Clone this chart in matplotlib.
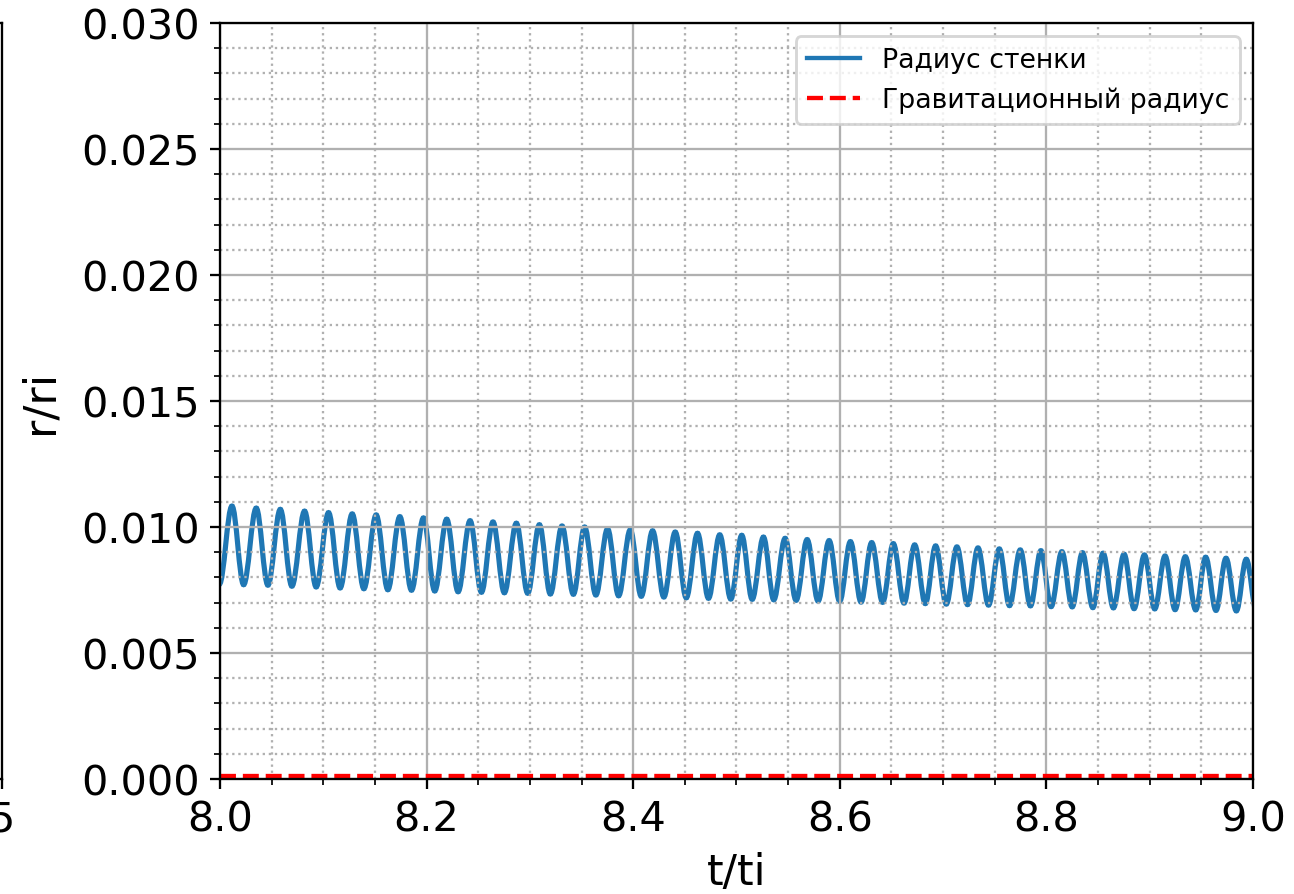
import numpy as np
import matplotlib
matplotlib.use('Agg')
import matplotlib.pyplot as plt
from matplotlib.path import Path
from matplotlib.patches import PathPatch
from matplotlib.lines import Line2D

peak_t = [8.0116, 8.0351, 8.0584, 8.0819, 8.1051, 8.1280, 8.1512, 8.1741, 8.1970, 8.2195,
          8.2421, 8.2643, 8.2869, 8.3092, 8.3311, 8.3530, 8.3752, 8.3972, 8.4188, 8.4407,
          8.4623, 8.4838, 8.5051, 8.5261, 8.5471, 8.5684, 8.5897, 8.6103, 8.6309, 8.6518,
          8.6725, 8.6928, 8.7134, 8.7338, 8.7544, 8.7747, 8.7947, 8.8150, 8.8349, 8.8549,
          8.8752, 8.8949, 8.9149, 8.9345, 8.9542, 8.9739, 8.9935]
peak_r = [0.01083, 0.01075, 0.01070, 0.01063, 0.01057, 0.01052, 0.01048, 0.01041, 0.01036, 0.01031,
          0.01025, 0.01020, 0.01015, 0.01009, 0.01004, 0.01000, 0.00993, 0.00989, 0.00985, 0.00980,
          0.00975, 0.00969, 0.00967, 0.00960, 0.00955, 0.00950, 0.00946, 0.00942, 0.00938, 0.00934,
          0.00929, 0.00925, 0.00921, 0.00917, 0.00913, 0.00909, 0.00906, 0.00902, 0.00898, 0.00896,
          0.00892, 0.00889, 0.00885, 0.00882, 0.00880, 0.00876, 0.00872]
trough_t = [7.9994, 8.0229, 8.0464, 8.0696, 8.0931, 8.1163, 8.1393, 8.1625, 8.1854, 8.2079,
            8.2305, 8.2531, 8.2753, 8.2979, 8.3198, 8.3421, 8.3639, 8.3859, 8.4078, 8.4297,
            8.4514, 8.4729, 8.4945, 8.5152, 8.5361, 8.5577, 8.5790, 8.5999, 8.6206, 8.6415,
            8.6622, 8.6828, 8.7031, 8.7237, 8.7440, 8.7643, 8.7846, 8.8046, 8.8250, 8.8450,
            8.8649, 8.8849, 8.9049, 8.9246, 8.9446, 8.9642, 8.9839, 9.0035]
trough_r = [0.00773, 0.00771, 0.00769, 0.00765, 0.00762, 0.00758, 0.00755, 0.00751, 0.00749, 0.00746,
            0.00743, 0.00741, 0.00739, 0.00737, 0.00734, 0.00733, 0.00730, 0.00727, 0.00725, 0.00722,
            0.00719, 0.00717, 0.00714, 0.00713, 0.00711, 0.00709, 0.00706, 0.00705, 0.00702, 0.00701,
            0.00698, 0.00696, 0.00694, 0.00692, 0.00690, 0.00688, 0.00687, 0.00684, 0.00683, 0.00680,
            0.00679, 0.00676, 0.00675, 0.00672, 0.00671, 0.00669, 0.00667, 0.00665]

# gravitational radius (constant)
r_grav = 0.0001

t_min, t_max = 8.0, 9.0
r_min, r_max = 0.0, 0.030

# merge extrema in time order
ext = sorted(zip(peak_t + trough_t, peak_r + trough_r))

# smooth wave through the extrema: bezier segments with flat tangents
h = 0.3634
verts = [ext[0]]
codes = [Path.MOVETO]
for (t0, r0), (t1, r1) in zip(ext[:-1], ext[1:]):
    d = t1 - t0
    verts += [(t0 + h * d, r0), (t1 - h * d, r1), (t1, r1)]
    codes += [Path.CURVE4] * 3

fig = plt.figure(figsize=(1294 / 207, 895 / 207), dpi=207)

# neighbour subplot, only its right edge is in the picture
ax0 = fig.add_axes([-0.5, 0.1285, 0.5012, 0.8447])
ax0.set_xlim(0, 5)
ax0.set_ylim(r_min, r_max)
ax0.set_xticks([5])
ax0.set_yticks([])
ax0.tick_params(labelsize=14.4)

ax = fig.add_axes([0.1700, 0.1285, 0.7983, 0.8447])
wall = PathPatch(Path(verts, codes), facecolor='none', edgecolor='#1f77b4', lw=1.8)
ax.add_patch(wall)
ax.axhline(r_grav, color='red', linestyle='--', lw=1.5)

ax.set_xlim(t_min, t_max)
ax.set_ylim(r_min, r_max)
ax.minorticks_on()
ax.grid(which='major', linestyle='-', color='#b0b0b0', lw=0.8)
ax.grid(which='minor', linestyle=':', color='#b0b0b0', lw=0.8)
ax.tick_params(labelsize=14.4)

ax.set_xlabel('t/ti', fontsize=14.8)
ax.set_ylabel('r/ri', fontsize=15.5, labelpad=7)

handles = [Line2D([], [], color='#1f77b4', lw=1.5),
           Line2D([], [], color='red', linestyle='--', lw=1.5)]
ax.legend(handles, ['Радиус стенки', 'Гравитационный радиус'], loc='upper right', fontsize=9.3)

plt.savefig('out.png', dpi=207)
